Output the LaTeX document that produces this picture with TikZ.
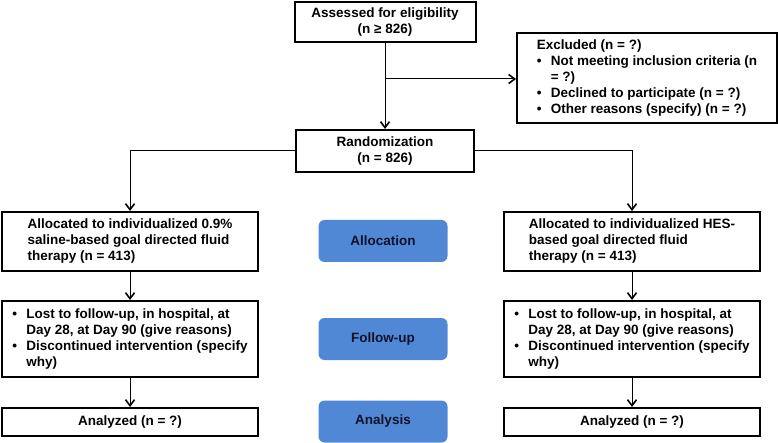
\documentclass[tikz,border=0pt]{standalone}
\usepackage{fontspec}
\setmainfont{Liberation Sans}
\usetikzlibrary{arrows.meta}
\definecolor{phaseblue}{RGB}{80,136,214}
\definecolor{phasetext}{RGB}{16,18,40}
\newcommand{\bul}{\makebox[14pt][l]{•}}

\begin{document}
\begin{tikzpicture}
  [x=1pt,y=-1pt,
   every node/.style={font=\bfseries\fontsize{13.5}{16}\selectfont},
   box/.style={draw,line width=2pt,inner sep=0pt,align=left},
   phase/.style={fill=phaseblue,text=phasetext,rounded corners=6pt,
     minimum width=129pt,minimum height=42pt},
   arr/.style={-{Straight Barb[length=6pt,width=9pt,line width=1.6pt]},line width=1pt}]
  \useasboundingbox (0,0) rectangle (778,443);

  \node [box,align=center,minimum width=181pt,minimum height=40pt] (n1) at (385,22)
    {Assessed for eligibility\\(n ≥ 826)};
  \node [box,minimum width=260pt,minimum height=90pt] (n2) at (647,78)
    {Excluded (n = ?)\\
     \bul Not meeting inclusion criteria (n\\
     \hspace*{14pt}= ?)\\
     \bul Declined to participate (n = ?)\\
     \bul Other reasons (specify) (n = ?)};
  \node [box,align=center,minimum width=178pt,minimum height=42pt] (n3) at (385,151)
    {Randomization\\(n = 826)};

  \node [box,minimum width=256pt,minimum height=59pt] (n4) at (130,241.5)
    {Allocated to individualized 0.9\%\\saline-based goal directed fluid\\therapy (n = 413)};
  \node [box,minimum width=256pt,minimum height=59pt] (n5) at (632,241.5)
    {Allocated to individualized HES-\\based goal directed fluid\\therapy (n = 413)};
  \node [box,minimum width=256pt,minimum height=76pt] (n6) at (130,339)
    {\bul Lost to follow-up, in hospital, at\\
     \hspace*{14pt}Day 28, at Day 90 (give reasons)\\
     \bul Discontinued intervention (specify\\
     \hspace*{14pt}why)};
  \node [box,minimum width=256pt,minimum height=76pt] (n7) at (632,339)
    {\bul Lost to follow-up, in hospital, at\\
     \hspace*{14pt}Day 28, at Day 90 (give reasons)\\
     \bul Discontinued intervention (specify\\
     \hspace*{14pt}why)};
  \node [box,align=center,minimum width=256pt,minimum height=28pt] (n8) at (130,422)
    {Analyzed (n = ?)};
  \node [box,align=center,minimum width=256pt,minimum height=28pt] (n9) at (632,422)
    {Analyzed (n = ?)};

  \node [phase] (p1) at (383,241) {Allocation};
  \node [phase] (p2) at (383,339) {Follow-up};
  \node [phase] (p3) at (383,421.5) {Analysis};

  \coordinate (b1) at (385,79);
  \draw [arr] (b1) -- (b1 -| n2.west);
  \draw [arr] (n3.west) -| (n4);
  \draw [arr] (n3.east) -| (n5);

  \foreach \from/\to in {n1/n3,n4/n6,n6/n8,n5/n7,n7/n9}
    \draw [arr] (\from) -- (\to);

\end{tikzpicture}
\end{document}
